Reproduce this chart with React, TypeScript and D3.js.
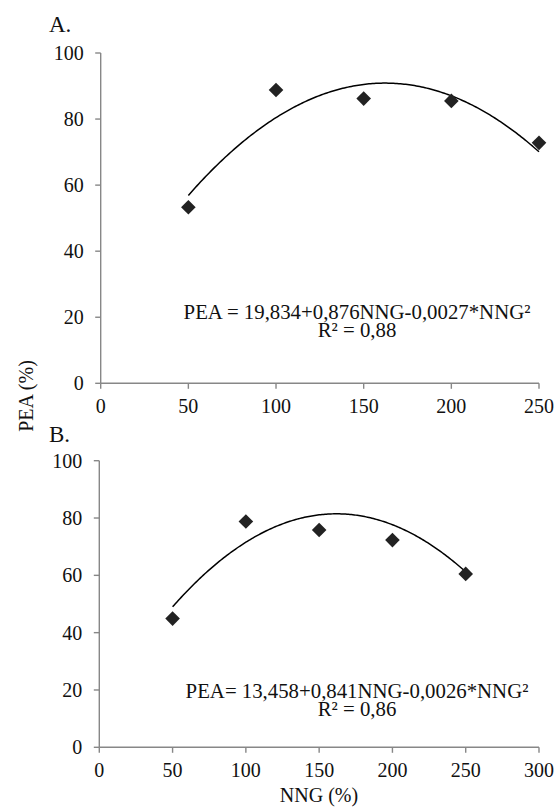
import React from "react";
import * as d3 from "d3";

const xTicksA = [0, 50, 100, 150, 200, 250];
const xTicksB = [0, 50, 100, 150, 200, 250, 300];
const yTicks = [0, 20, 40, 60, 80, 100];

const nngLevels = [50, 100, 150, 200, 250];
const peaA = [53.3, 88.8, 86.2, 85.5, 72.8];
const peaB = [44.9, 78.8, 75.8, 72.3, 60.5];

// trendline coefficients shown on the chart: a + b*x + c*x^2
const coefA = [19.834, 0.876, -0.0027];
const coefB = [13.458, 0.841, -0.0026];

const eqA = ["PEA = 19,834+0,876NNG-0,0027*NNG²", "R² = 0,88"];
const eqB = ["PEA= 13,458+0,841NNG-0,0026*NNG²", "R² = 0,86"];

const FONT = '"Liberation Serif", "Times New Roman", Times, serif';
const AXIS = "#878787";
const TXT = { fontFamily: FONT };

type PanelProps = {
  label: string;
  labelY: number;
  xDomain: [number, number];
  xRange: [number, number];
  yRange: [number, number];
  xTicks: number[];
  values: number[];
  coef: number[];
  eq: string[];
  eqY: [number, number];
};

function Panel(p: PanelProps) {
  const x = d3.scaleLinear().domain(p.xDomain).range(p.xRange);
  const y = d3.scaleLinear().domain([0, 100]).range(p.yRange);
  const x0 = p.xRange[0];
  const y0 = p.yRange[0];
  const xs = d3.range(nngLevels[0], nngLevels[nngLevels.length - 1] + 0.5, 1);
  const line = d3
    .line<number>()
    .x((v) => x(v))
    .y((v) => y(p.coef[0] + p.coef[1] * v + p.coef[2] * v * v));
  const r = 7.3;
  return (
    <g>
      <text x={49} y={p.labelY} style={TXT} fontSize={23} fill="#111">
        {p.label}
      </text>
      <line x1={x0} x2={x0} y1={y(100)} y2={y0} stroke={AXIS} strokeWidth={1.4} />
      <line x1={x0} x2={p.xRange[1]} y1={y0} y2={y0} stroke={AXIS} strokeWidth={1.4} />
      {yTicks.map((t) => (
        <g key={"y" + t}>
          <line x1={x0 - 5.5} x2={x0} y1={y(t)} y2={y(t)} stroke={AXIS} strokeWidth={1.4} />
          <text
            x={x0 - 17}
            y={y(t)}
            dy="0.35em"
            textAnchor="end"
            style={TXT}
            fontSize={20}
            fill="#111"
          >
            {t}
          </text>
        </g>
      ))}
      {p.xTicks.map((t) => (
        <g key={"x" + t}>
          <line x1={x(t)} x2={x(t)} y1={y0} y2={y0 + 5.5} stroke={AXIS} strokeWidth={1.4} />
          <text x={x(t)} y={y0 + 29.5} textAnchor="middle" style={TXT} fontSize={20} fill="#111">
            {t}
          </text>
        </g>
      ))}
      <path d={line(xs) || ""} fill="none" stroke="#000" strokeWidth={1.5} />
      {nngLevels.map((n, i) => {
        const cx = x(n);
        const cy = y(p.values[i]);
        return (
          <path
            key={"p" + i}
            d={`M${cx},${cy - r}L${cx + r},${cy}L${cx},${cy + r}L${cx - r},${cy}Z`}
            fill="#222"
          />
        );
      })}
      <text textAnchor="middle" style={TXT} fontSize={20.8} fill="#111">
        <tspan x={357} y={p.eqY[0]}>
          {p.eq[0]}
        </tspan>
        <tspan x={357} y={p.eqY[1]}>
          {p.eq[1]}
        </tspan>
      </text>
    </g>
  );
}

export default function App() {
  return (
    <svg
      width={556}
      height={808}
      style={{ position: "absolute", left: 0, top: 0, background: "#fff" }}
    >
      <rect width={556} height={808} fill="#fff" />
      <Panel
        label="A."
        labelY={32}
        xDomain={[0, 250]}
        xRange={[100.7, 539]}
        yRange={[383.3, 53]}
        xTicks={xTicksA}
        values={peaA}
        coef={coefA}
        eq={eqA}
        eqY={[319.3, 337]}
      />
      <Panel
        label="B."
        labelY={441.5}
        xDomain={[0, 300]}
        xRange={[99.3, 539]}
        yRange={[747.3, 460.7]}
        xTicks={xTicksB}
        values={peaB}
        coef={coefB}
        eq={eqB}
        eqY={[698, 716]}
      />
      <text
        transform="translate(33,396) rotate(-90)"
        textAnchor="middle"
        style={TXT}
        fontSize={20}
        fill="#111"
      >
        PEA (%)
      </text>
      <text x={319} y={802} textAnchor="middle" style={TXT} fontSize={20} fill="#111">
        NNG (%)
      </text>
    </svg>
  );
}
